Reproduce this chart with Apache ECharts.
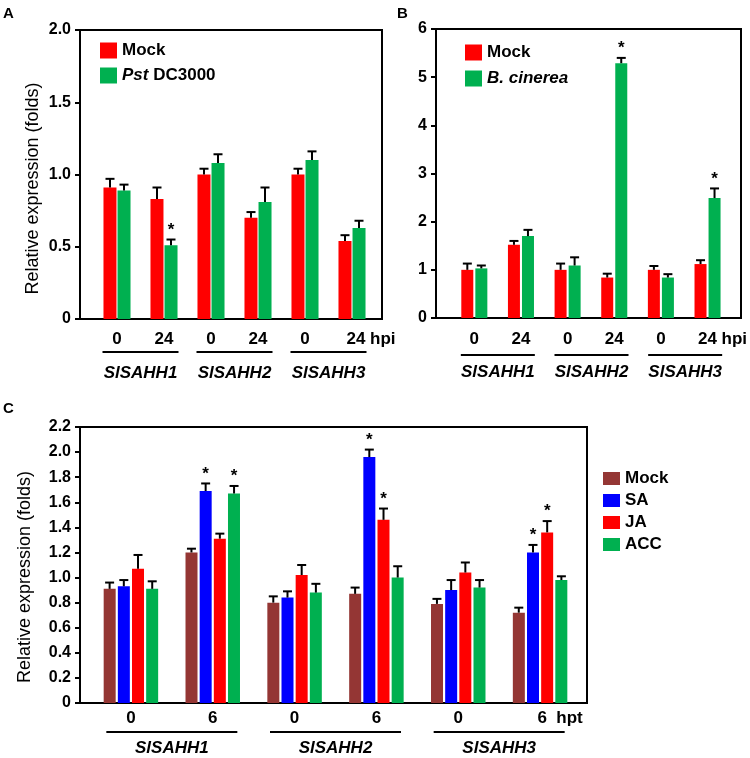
<!DOCTYPE html>
<html>
<head>
<meta charset="utf-8">
<script src="https://cdn.jsdelivr.net/npm/echarts@6/dist/echarts.min.js"></script>
<style>html,body{margin:0;padding:0;background:#fff}#main{width:750px;height:758px}</style>
</head>
<body>
<div id="main"></div>
<script>
var FONT = 'Arial, "Liberation Sans", sans-serif';
var genes = ['SlSAHH1', 'SlSAHH2', 'SlSAHH3'];

// A - Pst DC3000
var timeA = ['0', '24', '0', '24', '0', '24'];
var mockA = [0.91, 0.83, 1.00, 0.70, 1.00, 0.54];
var mockAErr = [0.06, 0.08, 0.04, 0.04, 0.04, 0.04];
var pstA = [0.89, 0.51, 1.08, 0.81, 1.10, 0.63];
var pstAErr = [0.04, 0.04, 0.06, 0.10, 0.06, 0.05];
var pstAStar = [1];

// B - B. cinerea
var timeB = ['0', '24', '0', '24', '0', '24'];
var mockB = [1.00, 1.52, 1.00, 0.84, 1.00, 1.12];
var mockBErr = [0.13, 0.08, 0.13, 0.08, 0.08, 0.08];
var bcB = [1.03, 1.70, 1.09, 5.29, 0.84, 2.49];
var bcBErr = [0.06, 0.13, 0.17, 0.11, 0.07, 0.20];
var bcBStar = [3, 5];

// C - hormones
var timeC = ['0', '6', '0', '6', '0', '6'];
var mockC = [0.91, 1.20, 0.80, 0.87, 0.79, 0.72];
var mockCErr = [0.05, 0.03, 0.05, 0.05, 0.04, 0.04];
var saC = [0.93, 1.69, 0.84, 1.96, 0.90, 1.20];
var saCErr = [0.05, 0.06, 0.05, 0.06, 0.08, 0.06];
var saCStar = [1, 3, 5];
var jaC = [1.07, 1.31, 1.02, 1.46, 1.04, 1.36];
var jaCErr = [0.11, 0.04, 0.08, 0.09, 0.08, 0.09];
var jaCStar = [3, 5];
var accC = [0.91, 1.67, 0.88, 1.00, 0.92, 0.98];
var accCErr = [0.06, 0.06, 0.07, 0.09, 0.06, 0.03];
var accCStar = [1];

var option = {
    animation: false,
    textStyle: { fontFamily: FONT },
    title: [],
    legend: [],
    grid: [],
    xAxis: [],
    yAxis: [],
    series: []
};

function labelFmt(v) { return v === 0 ? '0' : v.toFixed(1); }

function errRender(n, w, gap) {
    return function (params, api) {
        var ci = api.value(0), top = api.value(1), v = api.value(2), si = api.value(3), star = api.value(4);
        var p0 = api.coord([ci, v]);
        var p1 = api.coord([ci, top]);
        var x = p0[0] + (si - (n - 1) / 2) * (w + gap);
        var kids = [
            { type: 'line', shape: { x1: x, y1: p0[1], x2: x, y2: p1[1] }, style: { stroke: '#000', lineWidth: 2 } },
            { type: 'line', shape: { x1: x - 4.5, y1: p1[1], x2: x + 4.5, y2: p1[1] }, style: { stroke: '#000', lineWidth: 2 } }
        ];
        if (star) {
            kids.push({ type: 'text', x: x, y: p1[1] - 1, style: { text: '*', fill: '#000', font: 'bold 17px ' + FONT, align: 'center', verticalAlign: 'bottom' } });
        }
        return { type: 'group', children: kids };
    };
}

function addPanel(p) {
    var g0 = option.grid.length;
    // frame with the visible y axis
    option.grid.push({ left: p.left, top: p.top, width: p.width, height: p.height, show: true, borderColor: '#000', borderWidth: 2, backgroundColor: 'transparent' });
    // bars
    option.grid.push({ left: p.dataLeft, top: p.top, width: p.dataWidth, height: p.height });
    // gene names
    option.grid.push({ left: p.dataLeft, top: p.top, width: p.dataWidth, height: p.height });

    option.xAxis.push({ gridIndex: g0, type: 'value', show: false, min: 0, max: 1 });
    option.yAxis.push({
        gridIndex: g0, type: 'value', min: p.yMin, max: p.yMax, interval: p.yInterval,
        axisLine: { show: false },
        axisTick: { show: true, inside: false, length: 5, lineStyle: { color: '#000', width: 2 } },
        splitLine: { show: false },
        axisLabel: { color: '#000', fontSize: 16, fontWeight: 'bold', fontFamily: FONT, margin: 9, formatter: p.yFmt },
        name: p.yName, nameLocation: 'middle', nameGap: p.nameGap,
        nameTextStyle: { color: '#000', fontSize: 18, fontFamily: FONT, padding: [0, p.namePad, 0, 0] }
    });

    option.xAxis.push({
        gridIndex: g0 + 1, type: 'category', data: p.cats,
        axisLine: { show: false }, axisTick: { show: false },
        axisLabel: {
            interval: 0, color: '#000', fontSize: 17, fontWeight: 'bold', fontFamily: FONT, margin: p.catMargin,
            formatter: function (v, i) { return i === p.cats.length - 1 ? '{sp|}{t|' + v + p.unit + '}' : v; },
            rich: {
                sp: { width: p.unitPad },
                t: { fontSize: 17, fontWeight: 'bold', fontFamily: FONT, color: '#000' }
            }
        }
    });
    option.yAxis.push({ gridIndex: g0 + 1, type: 'value', min: p.yMin, max: p.yMax, show: false });

    option.xAxis.push({
        gridIndex: g0 + 2, type: 'category', data: genes,
        axisLine: { show: false }, axisTick: { show: false },
        axisLabel: {
            interval: 0, margin: p.geneMargin,
            formatter: function (v) { return '{ln|}\n{g|' + v + '}'; },
            rich: {
                ln: { width: p.lineW, height: 2, lineHeight: 2, backgroundColor: '#000' },
                g: { fontSize: 17, fontWeight: 'bold', fontStyle: 'italic', fontFamily: FONT, color: '#000', lineHeight: p.geneLH }
            }
        }
    });
    option.yAxis.push({ gridIndex: g0 + 2, type: 'value', min: p.yMin, max: p.yMax, show: false });

    var n = p.series.length;
    var errData = [];
    var names = [];
    p.series.forEach(function (s, si) {
        var id = p.key + ':' + s.name;
        names.push(id);
        option.series.push({
            name: id, type: 'bar', xAxisIndex: g0 + 1, yAxisIndex: g0 + 1,
            data: s.values, barWidth: p.barWidth, barGap: p.barGap,
            itemStyle: { color: s.color }, silent: true
        });
        s.values.forEach(function (v, i) {
            errData.push([i, v + s.errs[i], v, si, (s.stars || []).indexOf(i) >= 0 ? 1 : 0]);
        });
    });
    option.series.push({
        type: 'custom', xAxisIndex: g0 + 1, yAxisIndex: g0 + 1, z: 5, silent: true,
        renderItem: errRender(n, p.barWidth, p.gapPx), data: errData
    });

    option.legend.push({
        data: names, orient: 'vertical', left: p.legend.left, top: p.legend.top, padding: 0,
        itemWidth: 17, itemHeight: p.legend.itemHeight, itemGap: p.legend.gap, icon: 'rect',
        selectedMode: false,
        formatter: function (name) { return p.legendText[name.split(':')[1]]; },
        textStyle: {
            color: '#000', fontSize: 17, fontWeight: 'bold', fontFamily: FONT,
            rich: { i: { fontStyle: 'italic', fontWeight: 'bold', fontSize: 17, fontFamily: FONT, color: '#000' } }
        }
    });

    option.title.push({
        text: p.key, left: p.letter[0], top: p.letter[1], padding: 0,
        textStyle: { color: '#000', fontSize: 15, fontWeight: 'bold', fontFamily: FONT }
    });
}

addPanel({
    key: 'A', left: 80, top: 30, width: 302, height: 289,
    dataLeft: 93.5, dataWidth: 282,
    yMin: 0, yMax: 2, yInterval: 0.5, yFmt: labelFmt,
    yName: 'Relative expression (folds)', nameGap: 38, namePad: 28,
    cats: timeA, unit: ' hpi', unitPad: 38, catMargin: 12,
    geneMargin: 32, lineW: 76, geneLH: 40,
    barWidth: 13, barGap: '8%', gapPx: 1,
    series: [
        { name: 'Mock', color: '#FF0000', values: mockA, errs: mockAErr },
        { name: 'Pst', color: '#00B050', values: pstA, errs: pstAErr, stars: pstAStar }
    ],
    legendText: { 'Mock': 'Mock', 'Pst': '{i|Pst} DC3000' },
    legend: { left: 100, top: 42, itemHeight: 16, gap: 8 },
    letter: [3, 6]
});

addPanel({
    key: 'B', left: 436, top: 29, width: 305, height: 289,
    dataLeft: 451, dataWidth: 281,
    yMin: 0, yMax: 6, yInterval: 1, yFmt: function (v) { return String(v); },
    yName: '', nameGap: 38, namePad: 0,
    cats: timeB, unit: ' hpi', unitPad: 30, catMargin: 13,
    geneMargin: 36, lineW: 74, geneLH: 32,
    barWidth: 12, barGap: '17%', gapPx: 2,
    series: [
        { name: 'Mock', color: '#FF0000', values: mockB, errs: mockBErr },
        { name: 'Bc', color: '#00B050', values: bcB, errs: bcBErr, stars: bcBStar }
    ],
    legendText: { 'Mock': 'Mock', 'Bc': '{i|B. cinerea}' },
    legend: { left: 465, top: 44, itemHeight: 16, gap: 9 },
    letter: [397, 6]
});

addPanel({
    key: 'C', left: 80, top: 427, width: 507, height: 276,
    dataLeft: 90, dataWidth: 491,
    yMin: 0, yMax: 2.2, yInterval: 0.2, yFmt: labelFmt,
    yName: 'Relative expression (folds)', nameGap: 46, namePad: 24,
    cats: timeC, unit: '  hpt', unitPad: 40, catMargin: 7,
    geneMargin: 28, lineW: 131, geneLH: 30,
    barWidth: 12, barGap: '18%', gapPx: 2.2,
    series: [
        { name: 'Mock', color: '#943634', values: mockC, errs: mockCErr },
        { name: 'SA', color: '#0000FF', values: saC, errs: saCErr, stars: saCStar },
        { name: 'JA', color: '#FF0000', values: jaC, errs: jaCErr, stars: jaCStar },
        { name: 'ACC', color: '#00B050', values: accC, errs: accCErr, stars: accCStar }
    ],
    legendText: { 'Mock': 'Mock', 'SA': 'SA', 'JA': 'JA', 'ACC': 'ACC' },
    legend: { left: 603, top: 470, itemHeight: 13, gap: 5 },
    letter: [3, 401]
});

var chart = echarts.init(document.getElementById('main'));
chart.setOption(option);
</script>
</body>
</html>
